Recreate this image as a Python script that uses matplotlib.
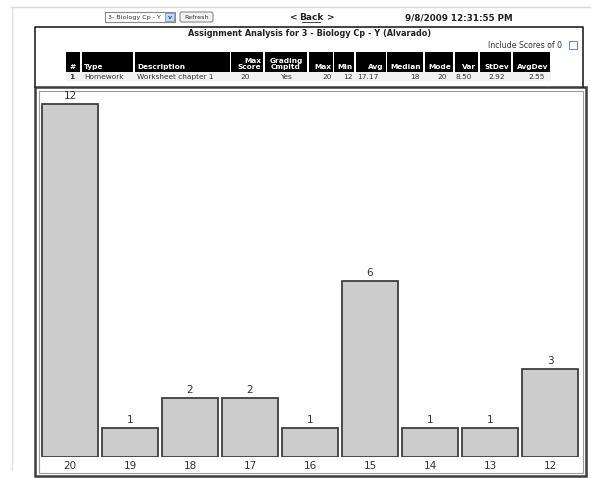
import matplotlib.pyplot as plt
from matplotlib.patches import Rectangle, FancyBboxPatch

# Histogram data: score -> number of students
scores = ['20', '19', '18', '17', '16', '15', '14', '13', '12']
counts = [12, 1, 2, 2, 1, 6, 1, 1, 3]

# Summary table above the chart
col_headers = ['#', 'Type', 'Description', 'Max\nScore', 'Grading\nCmpltd',
               'Max', 'Min', 'Avg', 'Median', 'Mode', 'Var', 'StDev', 'AvgDev']
row_values = ['1', 'Homework', 'Worksheet chapter 1', '20', 'Yes',
              '20', '12', '17.17', '18', '20', '8.50', '2.92', '2.55']

title = 'Assignment Analysis for 3 - Biology Cp - Y (Alvarado)'
timestamp = '9/8/2009 12:31:55 PM'
course = '3- Biology Cp - Y'

W, H = 591, 478
fig = plt.figure(figsize=(W / 100, H / 100), dpi=100)

# overlay in pixel coordinates for the page decoration
page = fig.add_axes([0, 0, 1, 1])
page.set_xlim(0, W)
page.set_ylim(H, 0)
page.axis('off')

# faint page edges
page.plot([11, W], [7, 7], color='#d8d8d8', lw=1)
page.plot([12, 12], [7, 470], color='#e2e2e2', lw=1)

# course dropdown + refresh button
page.add_patch(Rectangle((105, 12), 70, 10, fc='white', ec='#8a8a8a', lw=0.8))
page.add_patch(Rectangle((165, 13), 9, 8, fc='#c9d8f0', ec='#7a96c8', lw=0.6))
page.text(108, 17.5, course, fontsize=4.6, va='center', color='#333')
page.text(169.5, 17.5, 'v', fontsize=4.5, va='center', ha='center', color='#2b4f9e', weight='bold')
page.add_patch(FancyBboxPatch((180, 12), 33, 10, boxstyle='round,pad=0,rounding_size=2',
                              fc='#f3f3f3', ec='#8a8a8a', lw=0.8))
page.text(196.5, 17.5, 'Refresh', fontsize=4.6, va='center', ha='center', color='#333')

page.text(290, 17.5, '<', fontsize=6.5, va='center', color='#222', weight='bold')
page.text(311, 17.5, 'Back', fontsize=6.5, va='center', ha='center', color='#222', weight='bold')
page.plot([302, 320], [22, 22], color='#222', lw=0.6)
page.text(327, 17.5, '>', fontsize=6.5, va='center', color='#222', weight='bold')
page.text(405, 17.5, timestamp, fontsize=6.3, va='center', color='#222', weight='bold')

# header box
page.plot([35, 35, 583, 583], [87, 27, 27, 87], color='#222', lw=1.2)
page.text(310, 33, title, fontsize=5.85, ha='center', va='center', weight='bold', color='#222')
page.text(562, 45, 'Include Scores of 0', fontsize=5.6, ha='right', va='center', color='#333')
page.add_patch(Rectangle((569, 41), 8, 8, fc='white', ec='#6f8fc0', lw=0.8))

# table: cell x-extents in pixels
cells = [(66, 80), (82, 133), (135, 230), (231, 263), (265, 307), (309, 333), (334, 354),
         (356, 386), (387, 423), (425, 453), (455, 478), (480, 511), (513, 550)]
aligns = ['center', 'left', 'left', 'right', 'center', 'right', 'right',
          'right', 'right', 'right', 'right', 'right', 'right']
data_x = [72, 84, 137, 245, 286, 332, 353, 357, 420, 447, 472, 505, 545]
data_ha = ['center', 'left', 'left', 'center', 'center', 'right', 'right',
           'left', 'right', 'right', 'right', 'right', 'right']
page.add_patch(Rectangle((66, 71.5), 485, 9, fc='#f1f1f1', ec='none'))
for (x0, x1), hdr, al, val, dx, dha in zip(cells, col_headers, aligns, row_values, data_x, data_ha):
    page.add_patch(Rectangle((x0, 52), x1 - x0, 19.5, fc='black', ec='none'))
    if al == 'left':
        tx = x0 + 2
    elif al == 'right':
        tx = x1 - 2
    else:
        tx = (x0 + x1) / 2
    page.text(tx, 70, hdr, fontsize=5.3, ha=al, va='bottom', color='white', weight='bold',
              linespacing=0.95, multialignment=al)
    page.text(dx, 76.5, val, fontsize=5.3, ha=dha, va='center', color='#333',
              weight='bold' if hdr == '#' else 'normal')

# chart frame (double border)
page.add_patch(Rectangle((35, 87), 551, 389, fc='none', ec='#3c3c3c', lw=1.8))
page.add_patch(Rectangle((38.5, 90.5), 544, 382, fc='none', ec='#9a9a9a', lw=0.8))

# bar chart axes: bars 0..8 centred at x=70+60*i px, baseline at y=457 px
px_unit = 60.0
left_px, right_px = 40, 580
top_px, base_px = 92, 457
y_scale = (457 - 104) / 12.0
ax = fig.add_axes([left_px / W, 1 - base_px / H, (right_px - left_px) / W, (base_px - top_px) / H])
ax.set_xlim(-(70 - left_px) / px_unit, 8 + (right_px - 550) / px_unit)
ax.set_ylim(0, (base_px - top_px) / y_scale)
ax.patch.set_alpha(0)

x = list(range(len(scores)))
bars = ax.bar(x, counts, width=56 / 60, color='#cccccc', edgecolor='#3f3f3f', linewidth=1.3)
ax.bar_label(bars, labels=[str(c) for c in counts], padding=2, fontsize=7.5, color='#333')
ax.set_xticks(x)
ax.set_xticklabels(scores, fontsize=7.5, color='#333')
ax.tick_params(axis='x', length=0, pad=3)
ax.set_yticks([])
for s in ax.spines.values():
    s.set_visible(False)

fig.savefig('out.png', dpi=100)
